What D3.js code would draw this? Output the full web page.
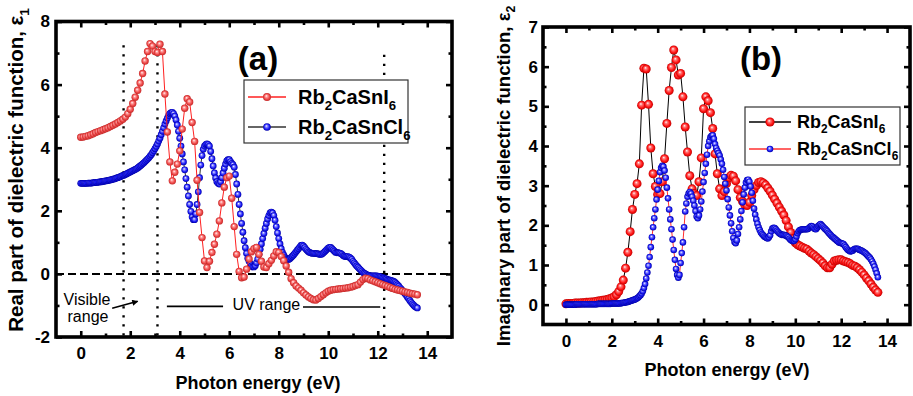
<!DOCTYPE html>
<html><head><meta charset="utf-8">
<script src="https://cdn.jsdelivr.net/npm/d3@7"></script>
<style>
body{margin:0;background:#fff;}
svg{display:block;font-family:Arial,"Liberation Sans",sans-serif;}
</style></head><body>
<svg id="chart" width="913" height="396"></svg>
<script>
// photon energy grid of the iodide data (eV)
var energyI = [
 0,0.1,0.2,0.3,0.4,0.5,0.6,0.7,0.8,0.9,
 1,1.1,1.2,1.3,1.4,1.5,1.6,1.7,1.8,1.9,
 2,2.1,2.2,2.3,2.4,2.5,2.6,2.7,2.8,2.9,
 3,3.1,3.2,3.3,3.4,3.5,3.6,3.7,3.8,3.9,
 4,4.1,4.2,4.3,4.4,4.5,4.6,4.7,4.8,4.9,
 5,5.1,5.2,5.3,5.4,5.5,5.6,5.7,5.8,5.9,
 6,6.1,6.2,6.3,6.4,6.5,6.6,6.7,6.8,6.9,
 7,7.1,7.2,7.3,7.4,7.5,7.6,7.7,7.8,7.9,
 8,8.1,8.2,8.3,8.4,8.5,8.6,8.7,8.8,8.9,
 9,9.1,9.2,9.3,9.4,9.5,9.6,9.7,9.8,9.9,
 10,10.1,10.2,10.3,10.4,10.5,10.6,10.7,10.8,10.9,
 11,11.1,11.2,11.3,11.4,11.5,11.6,11.7,11.8,11.9,
 12,12.1,12.2,12.3,12.4,12.5,12.6,12.7,12.8,12.9,
 13,13.1,13.2,13.3,13.4,13.5,13.6
];
// photon energy grid of the chloride data (eV), finer
var energyCl = [
 0,0.05,0.1,0.15,0.2,0.25,0.3,0.35,0.4,0.45,0.5,0.55,0.6,0.65,0.7,0.75,0.8,0.85,0.9,0.95,
 1,1.05,1.1,1.15,1.2,1.25,1.3,1.35,1.4,1.45,1.5,1.55,1.6,1.65,1.7,1.75,1.8,1.85,1.9,1.95,
 2,2.05,2.1,2.15,2.2,2.25,2.3,2.35,2.4,2.45,2.5,2.55,2.6,2.65,2.7,2.75,2.8,2.85,2.9,2.95,
 3,3.05,3.1,3.15,3.2,3.25,3.3,3.35,3.4,3.45,3.5,3.55,3.6,3.65,3.7,3.75,3.8,3.85,3.9,3.95,
 4,4.05,4.1,4.15,4.2,4.25,4.3,4.35,4.4,4.45,4.5,4.55,4.6,4.65,4.7,4.75,4.8,4.85,4.9,4.95,
 5,5.05,5.1,5.15,5.2,5.25,5.3,5.35,5.4,5.45,5.5,5.55,5.6,5.65,5.7,5.75,5.8,5.85,5.9,5.95,
 6,6.05,6.1,6.15,6.2,6.25,6.3,6.35,6.4,6.45,6.5,6.55,6.6,6.65,6.7,6.75,6.8,6.85,6.9,6.95,
 7,7.05,7.1,7.15,7.2,7.25,7.3,7.35,7.4,7.45,7.5,7.55,7.6,7.65,7.7,7.75,7.8,7.85,7.9,7.95,
 8,8.05,8.1,8.15,8.2,8.25,8.3,8.35,8.4,8.45,8.5,8.55,8.6,8.65,8.7,8.75,8.8,8.85,8.9,8.95,
 9,9.05,9.1,9.15,9.2,9.25,9.3,9.35,9.4,9.45,9.5,9.55,9.6,9.65,9.7,9.75,9.8,9.85,9.9,9.95,
 10,10.05,10.1,10.15,10.2,10.25,10.3,10.35,10.4,10.45,10.5,10.55,10.6,10.65,10.7,10.75,10.8,10.85,10.9,10.95,
 11,11.05,11.1,11.15,11.2,11.25,11.3,11.35,11.4,11.45,11.5,11.55,11.6,11.65,11.7,11.75,11.8,11.85,11.9,11.95,
 12,12.05,12.1,12.15,12.2,12.25,12.3,12.35,12.4,12.45,12.5,12.55,12.6,12.65,12.7,12.75,12.8,12.85,12.9,12.95,
 13,13.05,13.1,13.15,13.2,13.25,13.3,13.35,13.4,13.45,13.5,13.55,13.6
];

// (a) real part eps1
var eps1_I = [
 4.33,4.34,4.36,4.38,4.41,4.44,4.48,4.51,4.54,4.57,
 4.60,4.63,4.67,4.71,4.75,4.80,4.85,4.90,4.97,5.08,
 5.22,5.40,5.60,5.82,6.05,6.35,6.75,7.05,7.30,7.22,
 7.05,7.02,7.28,7.05,5.70,4.50,3.55,2.95,3.22,3.48,
 3.90,4.59,5.25,5.55,5.45,4.80,4.20,2.97,1.95,1.15,
 0.41,0.20,0.40,0.68,0.94,1.26,1.68,2.25,2.75,3.05,
 3.10,2.40,1.50,0.62,0.08,-0.12,-0.10,0.15,0.47,0.70,
 0.80,0.84,0.62,0.40,0.22,0.20,0.32,0.43,0.57,0.70,
 0.68,0.55,0.42,0.25,0.05,-0.15,-0.28,-0.38,-0.45,-0.52,
 -0.60,-0.67,-0.73,-0.78,-0.82,-0.83,-0.78,-0.72,-0.66,-0.60,
 -0.55,-0.52,-0.50,-0.49,-0.48,-0.47,-0.46,-0.45,-0.44,-0.42,
 -0.40,-0.37,-0.34,-0.26,-0.18,-0.14,-0.15,-0.19,-0.22,-0.25,
 -0.28,-0.31,-0.34,-0.37,-0.40,-0.43,-0.46,-0.49,-0.51,-0.53,
 -0.55,-0.57,-0.59,-0.61,-0.63,-0.64,-0.66
];
var eps1_Cl = [
 2.87,2.87,2.87,2.87,2.87,2.87,2.88,2.88,2.88,2.88,2.89,2.89,2.90,2.90,2.91,2.91,2.92,2.92,2.93,2.94,
 2.95,2.95,2.96,2.97,2.98,2.99,3.00,3.01,3.02,3.04,3.05,3.07,3.08,3.10,3.12,3.13,3.15,3.17,3.19,3.21,
 3.23,3.25,3.27,3.29,3.31,3.33,3.36,3.39,3.42,3.45,3.49,3.52,3.56,3.60,3.64,3.68,3.73,3.78,3.84,3.90,
 3.97,4.04,4.12,4.21,4.30,4.41,4.52,4.63,4.75,4.85,4.94,5.02,5.08,5.11,5.12,5.08,5.00,4.88,4.72,4.52,
 4.30,4.05,3.80,3.55,3.30,3.02,2.75,2.47,2.20,1.98,1.80,1.72,1.72,1.90,2.20,2.60,3.05,3.45,3.75,3.95,
 4.05,4.10,4.12,4.10,4.05,3.88,3.65,3.42,3.20,3.04,2.92,2.87,2.85,2.92,3.05,3.20,3.35,3.48,3.58,3.62,
 3.62,3.56,3.50,3.46,3.38,3.15,2.85,2.52,2.20,1.90,1.60,1.32,1.05,0.83,0.65,0.50,0.40,0.32,0.25,0.22,
 0.22,0.26,0.35,0.47,0.62,0.78,0.95,1.12,1.28,1.45,1.60,1.74,1.85,1.93,1.96,1.93,1.85,1.70,1.50,1.30,
 1.12,0.95,0.80,0.68,0.60,0.53,0.48,0.46,0.46,0.48,0.52,0.56,0.60,0.65,0.70,0.75,0.80,0.85,0.90,0.91,
 0.88,0.83,0.78,0.74,0.70,0.68,0.66,0.65,0.65,0.65,0.64,0.64,0.63,0.62,0.62,0.63,0.66,0.70,0.74,0.78,
 0.82,0.84,0.84,0.80,0.76,0.72,0.68,0.67,0.67,0.66,0.65,0.62,0.58,0.56,0.55,0.55,0.55,0.53,0.50,0.46,
 0.40,0.35,0.30,0.25,0.21,0.17,0.13,0.09,0.05,0.02,0.00,-0.02,-0.04,-0.05,-0.06,-0.06,-0.06,-0.06,-0.06,-0.06,
 -0.07,-0.08,-0.09,-0.10,-0.12,-0.13,-0.15,-0.16,-0.18,-0.19,-0.20,-0.21,-0.22,-0.24,-0.27,-0.31,-0.35,-0.39,-0.44,-0.48,
 -0.53,-0.58,-0.63,-0.68,-0.74,-0.79,-0.85,-0.90,-0.95,-0.99,-1.03,-1.06,-1.08
];

// (b) imaginary part eps2
var eps2_I = [
 0.02,0.03,0.03,0.03,0.04,0.04,0.04,0.05,0.05,0.06,
 0.06,0.07,0.07,0.08,0.09,0.10,0.11,0.12,0.13,0.15,
 0.17,0.20,0.25,0.33,0.45,0.62,0.92,1.32,1.84,2.40,
 2.78,3.05,3.55,5.03,5.96,5.94,5.05,3.95,3.30,2.98,
 2.78,2.80,3.10,3.68,4.57,5.40,5.98,6.42,6.17,5.79,
 5.83,5.24,4.48,3.85,3.25,2.92,2.80,2.75,3.10,3.70,
 4.94,5.24,5.14,4.84,4.44,3.80,3.30,2.92,2.75,2.85,
 3.05,3.20,3.26,3.24,3.12,2.90,2.70,2.60,2.52,2.50,
 2.58,2.75,2.90,3.00,3.08,3.10,3.07,3.02,2.94,2.86,
 2.76,2.66,2.56,2.46,2.36,2.26,2.12,1.96,1.82,1.66,
 1.56,1.51,1.48,1.45,1.42,1.40,1.35,1.30,1.26,1.21,
 1.16,1.11,1.05,0.98,0.93,0.93,1.02,1.10,1.12,1.13,
 1.13,1.10,1.08,1.06,1.03,0.99,0.97,0.93,0.88,0.82,
 0.75,0.67,0.60,0.52,0.44,0.37,0.31
];
var eps2_Cl = [
 0.00,0.00,0.00,0.00,0.00,0.00,0.00,0.00,0.00,0.01,0.01,0.01,0.01,0.01,0.01,0.01,0.01,0.01,0.01,0.01,
 0.01,0.01,0.01,0.01,0.01,0.01,0.01,0.01,0.02,0.02,0.02,0.02,0.02,0.02,0.02,0.02,0.02,0.02,0.02,0.02,
 0.03,0.03,0.03,0.03,0.03,0.03,0.03,0.03,0.04,0.04,0.05,0.05,0.06,0.06,0.07,0.08,0.09,0.10,0.11,0.12,
 0.13,0.14,0.16,0.18,0.21,0.24,0.28,0.34,0.42,0.52,0.66,0.81,0.98,1.20,1.45,1.70,1.95,2.18,2.40,2.65,
 2.90,3.12,3.34,3.45,3.50,3.48,3.38,3.20,2.95,2.68,2.40,2.15,1.90,1.64,1.38,1.13,0.90,0.75,0.68,0.75,
 1.05,1.30,1.57,1.95,2.35,2.55,2.72,2.80,2.84,2.80,2.72,2.62,2.50,2.36,2.22,2.18,2.25,2.40,2.60,2.85,
 3.09,3.32,3.55,3.78,4.00,4.12,4.22,4.26,4.27,4.18,4.05,3.95,3.88,3.82,3.76,3.66,3.55,3.40,3.22,3.05,
 2.88,2.66,2.45,2.25,2.05,1.85,1.68,1.58,1.55,1.62,1.78,1.95,2.15,2.36,2.58,2.78,2.95,3.08,3.14,3.15,
 3.10,2.98,2.82,2.62,2.42,2.27,2.15,2.04,1.95,1.88,1.82,1.78,1.75,1.72,1.70,1.68,1.67,1.70,1.75,1.85,
 1.92,1.94,1.93,1.90,1.86,1.83,1.80,1.78,1.76,1.76,1.76,1.75,1.74,1.72,1.70,1.66,1.63,1.61,1.60,1.61,
 1.65,1.72,1.80,1.85,1.88,1.89,1.90,1.90,1.90,1.90,1.90,1.91,1.93,1.96,1.98,1.97,1.94,1.91,1.90,1.94,
 1.98,2.01,2.03,2.00,1.97,1.94,1.91,1.88,1.85,1.81,1.78,1.75,1.72,1.70,1.67,1.65,1.62,1.60,1.57,1.56,
 1.55,1.54,1.53,1.49,1.45,1.41,1.38,1.36,1.34,1.35,1.36,1.39,1.41,1.41,1.41,1.40,1.38,1.37,1.36,1.34,
 1.32,1.30,1.27,1.24,1.21,1.18,1.14,1.09,1.03,0.96,0.88,0.79,0.69
];

var nameI = ["Rb","2","CaSnI","6"];
var nameCl = ["Rb","2","CaSnCl","6"];
var xMajor = [0,2,4,6,8,10,12,14];
var xMinor = [1,3,5,7,9,11,13];
var yMajorA = [-2,0,2,4,6,8], yMinorA = [-1,1,3,5,7];
var yMajorB = [0,1,2,3,4,5,6,7], yMinorB = [0.5,1.5,2.5,3.5,4.5,5.5,6.5];
// visible / UV boundaries in (a)
var boundE = [1.73,3.1,12.26], boundTop = [7.25,7.25,6.95];

var svg = d3.select("#chart");
var defs = svg.append("defs");

function ballGrad(id, hi, mid, edge){
  var g = defs.append("radialGradient").attr("id",id)
    .attr("cx","50%").attr("cy","50%").attr("r","50%").attr("fx","40%").attr("fy","35%");
  g.append("stop").attr("offset","0%").attr("stop-color","#fff");
  g.append("stop").attr("offset","28%").attr("stop-color",hi);
  g.append("stop").attr("offset","70%").attr("stop-color",mid);
  g.append("stop").attr("offset","100%").attr("stop-color",edge);
}
ballGrad("redA","#ff9c9c","#ec4646","#c42a2a");
ballGrad("redB","#ff7a7a","#ff1414","#c00000");
ballGrad("blue","#8a8aff","#1a1af5","#0000a8");

defs.append("marker").attr("id","arr").attr("viewBox","0 0 10 10")
  .attr("refX",9).attr("refY",5).attr("markerWidth",7).attr("markerHeight",6)
  .attr("orient","auto").attr("markerUnits","userSpaceOnUse")
  .append("path").attr("d","M0,0L10,5L0,10z").attr("fill","#000");

function chemText(sel, parts, fs, xx, yy){
  var t = sel.append("text").attr("x",xx).attr("y",yy)
    .attr("font-size",fs).attr("font-weight","bold").attr("fill","#000");
  var down = false;
  parts.forEach(function(p){
    var ts = t.append("tspan").text(p);
    if(/^\d$/.test(p)){ ts.attr("font-size",fs*0.66).attr("dy",fs*0.27); down = true; }
    else if(down){ ts.attr("dy",-fs*0.27); down = false; }
  });
  return t;
}

function drawPanel(p){
  var x = d3.scaleLinear().domain([-1,15]).range(p.xr);
  var y = d3.scaleLinear().domain(p.yd).range(p.yr);
  var g = svg.append("g");
  if(p.before) p.before(g, x, y);

  p.series.forEach(function(s){
    var line = d3.line().x(function(d,i){return x(s.x[i]);}).y(function(d){return y(d);});
    g.append("path").datum(s.values).attr("d",line)
      .attr("fill","none").attr("stroke",s.line).attr("stroke-width",1);
    g.append("g").selectAll("circle").data(s.values).enter().append("circle")
      .attr("cx",function(d,i){return x(s.x[i]);})
      .attr("cy",function(d){return y(d);})
      .attr("r",s.r).attr("fill","url(#"+s.grad+")");
  });

  // inward ticks on all four sides
  var b = p.yr[0], t = p.yr[1], l = p.xr[0], r = p.xr[1];
  function ticks(axis, tr, vals, len){
    g.append("g").attr("transform",tr)
      .call(axis.tickValues(vals).tickSizeInner(-len).tickSizeOuter(0).tickFormat(""))
      .call(function(a){a.select(".domain").remove(); a.selectAll("line").attr("stroke","#000").attr("stroke-width",2.6);});
  }
  ticks(d3.axisBottom(x),"translate(0,"+b+")",xMajor,6);
  ticks(d3.axisBottom(x),"translate(0,"+b+")",xMinor,3.5);
  ticks(d3.axisTop(x),"translate(0,"+t+")",xMajor,6);
  ticks(d3.axisTop(x),"translate(0,"+t+")",xMinor,3.5);
  ticks(d3.axisLeft(y),"translate("+l+",0)",p.yMajor,6);
  ticks(d3.axisLeft(y),"translate("+l+",0)",p.yMinor,3.5);
  ticks(d3.axisRight(y),"translate("+r+",0)",p.yMajor,6);
  ticks(d3.axisRight(y),"translate("+r+",0)",p.yMinor,3.5);

  // tick labels
  g.append("g").attr("transform","translate(0,"+b+")")
    .call(d3.axisBottom(x).tickValues(xMajor).tickSize(0).tickPadding(p.padX).tickFormat(String))
    .call(function(a){a.select(".domain").remove();
      a.attr("font-size",17).attr("font-weight","bold").attr("font-family",null);
      a.selectAll("text").attr("fill","#000");});
  g.append("g").attr("transform","translate("+l+",0)")
    .call(d3.axisLeft(y).tickValues(p.yMajor).tickSize(0).tickPadding(p.padY).tickFormat(String))
    .call(function(a){a.select(".domain").remove();
      a.attr("font-size",17).attr("font-weight","bold").attr("font-family",null);
      a.selectAll("text").attr("fill","#000");});

  // frame
  g.append("rect").attr("x",l).attr("y",t).attr("width",r-l).attr("height",b-t)
    .attr("fill","none").attr("stroke","#000").attr("stroke-width",3.6);

  // axis titles
  g.append("text").attr("x",p.xTitle[0]).attr("y",p.xTitle[1]).attr("text-anchor","middle")
    .attr("font-size",18).attr("font-weight","bold").text("Photon energy (eV)");
  var yt = g.append("text").attr("transform","translate("+p.yTitle[0]+","+p.yTitle[1]+") rotate(-90)")
    .attr("text-anchor","middle").attr("font-size",p.yTitleFs).attr("font-weight","bold");
  yt.append("tspan").text(p.yTitleText + ", \u03b5");
  yt.append("tspan").attr("font-size",p.yTitleFs*0.66).attr("dy",p.yTitleFs*0.27).text(p.sub);

  // panel tag
  g.append("text").attr("x",p.tag[0]).attr("y",p.tag[1]).attr("text-anchor","middle")
    .attr("font-size",33).attr("font-weight","bold").text(p.tagText);

  // legend
  var L = p.legend;
  g.append("rect").attr("x",L.x).attr("y",L.y).attr("width",L.w).attr("height",L.h)
    .attr("fill","#fff").attr("stroke","#333").attr("stroke-width",1.2);
  L.items.forEach(function(it, k){
    var cy = L.y + L.row0 + k*L.dy;
    g.append("line").attr("x1",L.x+4).attr("x2",L.x+4+L.lineW).attr("y1",cy).attr("y2",cy)
      .attr("stroke",it.line).attr("stroke-width",1.3);
    g.append("circle").attr("cx",L.x+4+L.lineW/2).attr("cy",cy).attr("r",it.r).attr("fill","url(#"+it.grad+")");
    chemText(g, it.name, L.fs, L.x+4+L.lineW+L.gap, cy + L.fs*0.36);
  });
}

// panel (a)
drawPanel({
  xr:[56,452], yd:[-2,8], yr:[337,21.5], yMajor:yMajorA, yMinor:yMinorA,
  padX:10, padY:6,
  series:[
    {x:energyCl, values:eps1_Cl, line:"#333", r:3.4, grad:"blue"},
    {x:energyI, values:eps1_I, line:"#ff2020", r:3.7, grad:"redA"}
  ],
  xTitle:[258,389], yTitle:[23,170], yTitleFs:20.5, yTitleText:"Real part of dielectric function", sub:"1",
  tag:[258,70], tagText:"(a)",
  legend:{x:244,y:80,w:164,h:63,row0:17,dy:30,lineW:38,gap:12,fs:20,
    items:[{name:nameI,line:"#ff2020",r:4,grad:"redA"},{name:nameCl,line:"#333",r:3.8,grad:"blue"}]},
  before:function(g,x,y){
    g.append("line").attr("x1",x(-1)).attr("x2",x(15)).attr("y1",y(0)).attr("y2",y(0))
      .attr("stroke","#000").attr("stroke-width",2).attr("stroke-dasharray","8,4");
    boundE.forEach(function(e,k){
      g.append("line").attr("x1",x(e)).attr("x2",x(e)).attr("y1",y(boundTop[k])).attr("y2",y(-2))
        .attr("stroke","#000").attr("stroke-width",2.4).attr("stroke-dasharray","2.4,6.6");
    });
    g.append("text").attr("x",87).attr("y",305).attr("text-anchor","middle").attr("font-size",16).text("Visible");
    g.append("text").attr("x",88).attr("y",322).attr("text-anchor","middle").attr("font-size",16).text("range");
    g.append("line").attr("x1",x(1.27)).attr("y1",y(-1.09)).attr("x2",x(2.3)).attr("y2",y(-0.87))
      .attr("stroke","#000").attr("stroke-width",1.6).attr("marker-end","url(#arr)");
    g.append("line").attr("x1",x(3.48)).attr("x2",x(5.75)).attr("y1",y(-1.03)).attr("y2",y(-1.03))
      .attr("stroke","#000").attr("stroke-width",1.6);
    g.append("line").attr("x1",x(8.98)).attr("x2",x(12.1)).attr("y1",y(-1.05)).attr("y2",y(-1.05))
      .attr("stroke","#000").attr("stroke-width",1.6);
    g.append("text").attr("x",x(7.5)).attr("y",310).attr("text-anchor","middle").attr("font-size",16).text("UV range");
  }
});

// panel (b)
drawPanel({
  xr:[543,910], yd:[-0.5,7], yr:[324.5,27], yMajor:yMajorB, yMinor:yMinorB,
  padX:10.5, padY:5,
  series:[
    {x:energyI, values:eps2_I, line:"#000", r:4.5, grad:"redB"},
    {x:energyCl, values:eps2_Cl, line:"#ff3030", r:3.3, grad:"blue"}
  ],
  xTitle:[727,376], yTitle:[510,176], yTitleFs:18.5, yTitleText:"Imaginary part of dielectric function", sub:"2",
  tag:[761,70], tagText:"(b)",
  legend:{x:745,y:107,w:155,h:58,row0:15,dy:27,lineW:42,gap:6,fs:18,
    items:[{name:nameI,line:"#000",r:4.6,grad:"redB"},{name:nameCl,line:"#ff3030",r:3.3,grad:"blue"}]}
});
</script>
</body></html>
